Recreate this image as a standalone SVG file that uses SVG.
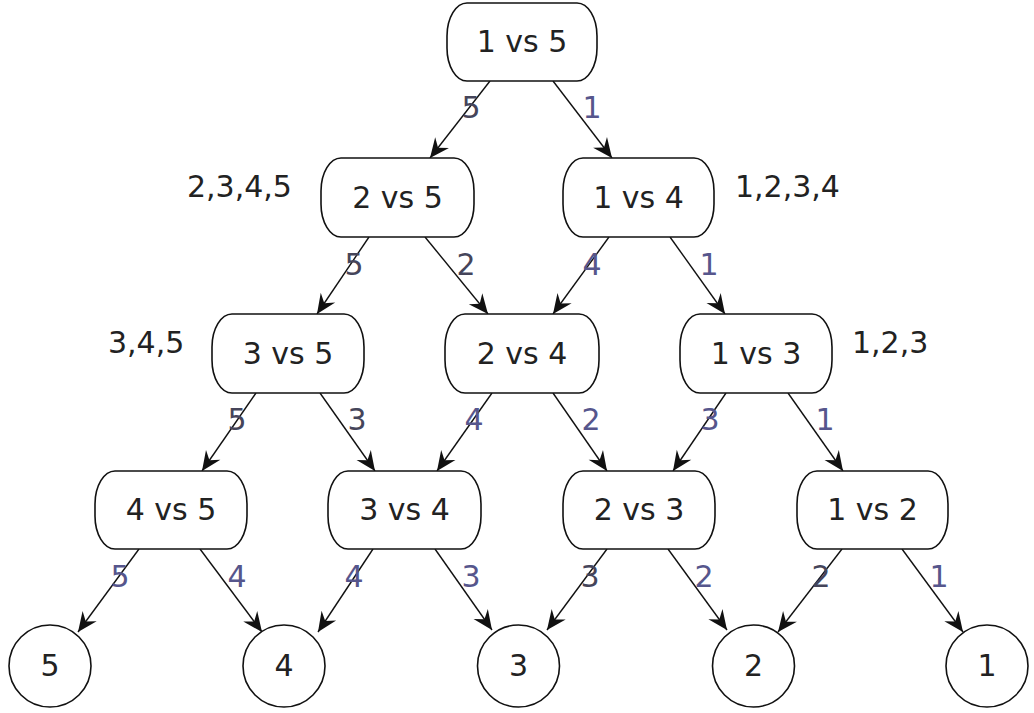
<svg xmlns="http://www.w3.org/2000/svg" width="1034" height="713" viewBox="0 0 1034 713">
<style>
.box{fill:#fff;stroke:#111;stroke-width:1.6}
.t{font-family:"DejaVu Sans",sans-serif;font-size:30px;fill:#222;text-anchor:middle}
.side{font-family:"DejaVu Sans",sans-serif;font-size:30px;fill:#222}
.e{stroke:#111;stroke-width:1.4;fill:none;marker-end:url(#ah)}
.ld{font-family:"DejaVu Sans",sans-serif;font-size:30px;fill:#45455a;text-anchor:middle}
.lb{font-family:"DejaVu Sans",sans-serif;font-size:30px;fill:#56568c;text-anchor:middle}
</style>
<defs>
<marker id="ah" markerUnits="userSpaceOnUse" markerWidth="24" markerHeight="24" viewBox="-20 -10 22 20" refX="0" refY="0" orient="auto">
<path d="M0,0 L-18,-8 L-12,0 L-18,8 Z" fill="#111"/>
</marker>
</defs>
<rect width="1034" height="713" fill="#fff"/>
<g id="connectors">
<line class="e" x1="490" y1="81" x2="430" y2="158"/>
<line class="e" x1="553" y1="81" x2="612" y2="158"/>
<line class="e" x1="369" y1="237" x2="317" y2="314"/>
<line class="e" x1="425" y1="237" x2="488" y2="314"/>
<line class="e" x1="609" y1="237" x2="553" y2="314"/>
<line class="e" x1="670" y1="237" x2="725" y2="314"/>
<line class="e" x1="256" y1="393" x2="202" y2="471"/>
<line class="e" x1="320" y1="393" x2="375" y2="471"/>
<line class="e" x1="492" y1="393" x2="437" y2="471"/>
<line class="e" x1="553" y1="393" x2="607" y2="471"/>
<line class="e" x1="726" y1="393" x2="673" y2="471"/>
<line class="e" x1="788" y1="393" x2="843" y2="471"/>
<line class="e" x1="139" y1="549" x2="78" y2="632"/>
<line class="e" x1="200" y1="549" x2="262" y2="632"/>
<line class="e" x1="373" y1="549" x2="318" y2="632"/>
<line class="e" x1="435" y1="549" x2="492" y2="630"/>
<line class="e" x1="607" y1="549" x2="547" y2="630"/>
<line class="e" x1="668" y1="549" x2="727" y2="630"/>
<line class="e" x1="842" y1="549" x2="778" y2="632"/>
<line class="e" x1="902" y1="549" x2="963" y2="632"/>
<text class="ld" x="471" y="118">5</text>
<text class="lb" x="592" y="118">1</text>
<text class="ld" x="354" y="275">5</text>
<text class="ld" x="466" y="275">2</text>
<text class="lb" x="592" y="275">4</text>
<text class="lb" x="709" y="275">1</text>
<text class="ld" x="237" y="430">5</text>
<text class="ld" x="357" y="430">3</text>
<text class="lb" x="474" y="430">4</text>
<text class="lb" x="591" y="430">2</text>
<text class="lb" x="710" y="430">3</text>
<text class="lb" x="825" y="430">1</text>
<text class="lb" x="120" y="587">5</text>
<text class="lb" x="237" y="587">4</text>
<text class="lb" x="354" y="587">4</text>
<text class="lb" x="471" y="587">3</text>
<text class="ld" x="590" y="587">3</text>
<text class="lb" x="704" y="587">2</text>
<text class="ld" x="821" y="587">2</text>
<text class="lb" x="939" y="587">1</text>
</g>
<g id="n15"><rect class="box" x="447" y="3" width="150" height="78" rx="20" ry="33"/><text class="t" x="522" y="52">1 vs 5</text></g>
<g id="n25"><rect class="box" x="321" y="158" width="153" height="79" rx="20" ry="33"/><text class="t" x="397.5" y="208">2 vs 5</text></g>
<g id="n14"><rect class="box" x="563" y="158" width="151" height="79" rx="20" ry="33"/><text class="t" x="638.5" y="208">1 vs 4</text></g>
<g id="n35"><rect class="box" x="212" y="314" width="152" height="79" rx="20" ry="33"/><text class="t" x="288" y="364">3 vs 5</text></g>
<g id="n24"><rect class="box" x="445" y="314" width="154" height="79" rx="20" ry="33"/><text class="t" x="522" y="364">2 vs 4</text></g>
<g id="n13"><rect class="box" x="680" y="314" width="152" height="79" rx="20" ry="33"/><text class="t" x="756" y="364">1 vs 3</text></g>
<g id="n45"><rect class="box" x="95" y="471" width="152" height="78" rx="20" ry="33"/><text class="t" x="171" y="520">4 vs 5</text></g>
<g id="n34"><rect class="box" x="328" y="471" width="153" height="78" rx="20" ry="33"/><text class="t" x="404.5" y="520">3 vs 4</text></g>
<g id="n23"><rect class="box" x="563" y="471" width="152" height="78" rx="20" ry="33"/><text class="t" x="639" y="520">2 vs 3</text></g>
<g id="n12"><rect class="box" x="797" y="471" width="151" height="78" rx="20" ry="33"/><text class="t" x="872.5" y="520">1 vs 2</text></g>
<g id="c5"><circle class="box" cx="50" cy="666" r="41"/><text class="t" x="50" y="676">5</text></g>
<g id="c4"><circle class="box" cx="284" cy="666" r="41"/><text class="t" x="284" y="676">4</text></g>
<g id="c3"><circle class="box" cx="518.5" cy="666" r="41"/><text class="t" x="518.5" y="676">3</text></g>
<g id="c2"><circle class="box" cx="753.5" cy="666" r="41"/><text class="t" x="753.5" y="676">2</text></g>
<g id="c1"><circle class="box" cx="987" cy="666" r="41"/><text class="t" x="987" y="676">1</text></g>
<g id="sets">
<text class="side" x="187" y="197">2,3,4,5</text>
<text class="side" x="735" y="197">1,2,3,4</text>
<text class="side" x="108" y="353">3,4,5</text>
<text class="side" x="852" y="353">1,2,3</text>
</g>
</svg>
